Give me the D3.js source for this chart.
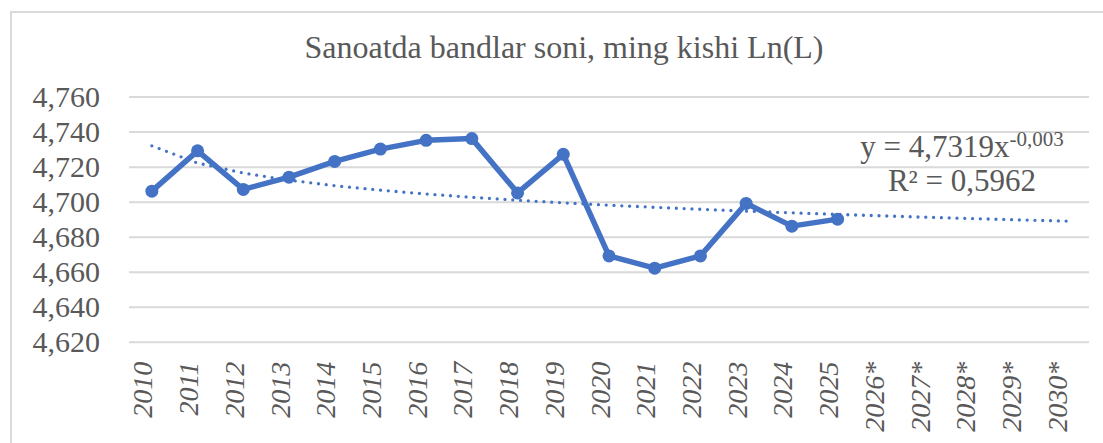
<!DOCTYPE html>
<html lang="en">

<head>
    <meta charset="UTF-8">
    <title>Sanoatda bandlar soni</title>
    <style>
        body { margin: 0; background: #fff; }
    </style>
</head>

<body>
    <svg width="1103" height="443" id="svg"></svg>
    <script src="https://d3js.org/d3.v7.min.js"></script>
    <script>
        // kategoriyalar (yillar)
        const years = ["2010", "2011", "2012", "2013", "2014", "2015", "2016", "2017", "2018", "2019",
            "2020", "2021", "2022", "2023", "2024", "2025", "2026*", "2027*", "2028*", "2029*", "2030*"]
        // Ln(L) qiymatlari, 2010-2025
        const values = [4.706, 4.729, 4.707, 4.714, 4.723, 4.730, 4.735, 4.736, 4.705, 4.727,
            4.669, 4.662, 4.669, 4.699, 4.686, 4.690]
        const yTicks = [4.620, 4.640, 4.660, 4.680, 4.700, 4.720, 4.740, 4.760]
        // trend: y = a * x^b
        const trendA = 4.7319
        const trendB = -0.003
        const trendR2 = "0,5962"

        const blue = "#4472C4"
        const grid = "#d9d9d9"
        const txt = "#595959"
        const font = "'Liberation Serif'"

        const svg = d3.select("svg#svg")
        const width = +svg.attr("width")
        const height = +svg.attr("height")

        svg.append("rect").attr("width", width).attr("height", height).attr("fill", "#fff")
        // ramka
        svg.append("rect")
            .attr("x", 11).attr("y", 12)
            .attr("width", width).attr("height", height)
            .attr("fill", "none").attr("stroke", grid).attr("stroke-width", 2)

        const xScale = d3.scalePoint().domain(years).range([129, 1089]).padding(0.5)
        const yScale = d3.scaleLinear().domain([4.62, 4.76]).range([341.7, 96.6])

        const comma = d => d3.format(".3f")(d).replace(".", ",").replace("\u2212", "-")
        const comma4 = d => d3.format(".4f")(d).replace(".", ",")

        // y o'qi
        const yAxis = d3.axisLeft(yScale).tickValues(yTicks).tickSize(-960).tickFormat(comma).tickPadding(29)
        const gy = svg.append("g").attr("transform", "translate(129,0)").call(yAxis)
        gy.attr("font-family", null)
        gy.select(".domain").remove()
        gy.selectAll(".tick line").attr("stroke", grid).attr("stroke-width", 2)
        gy.selectAll(".tick text")
            .attr("font-size", 30).attr("fill", txt)
            .style("font-family", font)

        // x o'qi
        const xAxis = d3.axisBottom(xScale).tickSize(0)
        const gx = svg.append("g").attr("transform", `translate(0,${yScale(4.62)})`).call(xAxis)
        gx.attr("font-family", null)
        gx.select(".domain").remove()
        gx.selectAll(".tick text")
            .attr("font-size", 28).attr("font-style", "italic").attr("fill", txt)
            .style("font-family", font)
            .attr("text-anchor", "end")
            .attr("transform", "rotate(-90)")
            .attr("x", -20).attr("y", 0).attr("dy", 0)

        // trend chizig'i
        const trend = years.map((d, i) => ({ name: d, value: trendA * Math.pow(i + 1, trendB) }))
        const line = d3.line().x(d => xScale(d.name)).y(d => yScale(d.value))
        svg.append("path")
            .attr("d", line(trend))
            .attr("fill", "none").attr("stroke", blue)
            .attr("stroke-width", 3.3).attr("stroke-linecap", "round")
            .attr("stroke-dasharray", "0 7.8")

        // asosiy qator
        const data = values.map((v, i) => ({ name: years[i], value: v }))
        svg.append("path")
            .attr("d", line(data))
            .attr("fill", "none").attr("stroke", blue)
            .attr("stroke-width", 5.5).attr("stroke-linejoin", "round")
        svg.selectAll("circle.pt").data(data).enter().append("circle")
            .attr("class", "pt")
            .attr("cx", d => xScale(d.name)).attr("cy", d => yScale(d.value))
            .attr("r", 6.5).attr("fill", blue)

        // sarlavha
        svg.append("text")
            .attr("x", 564).attr("y", 58)
            .attr("text-anchor", "middle").attr("font-size", 32)
            .attr("fill", txt).style("font-family", font)
            .text("Sanoatda bandlar soni, ming kishi Ln(L)")

        // tenglama
        const eq = svg.append("text")
            .attr("x", 962).attr("y", 157)
            .attr("text-anchor", "middle").attr("font-size", 31)
            .attr("fill", txt).style("font-family", font)
        eq.append("tspan").text("y = " + comma4(trendA) + "x")
        eq.append("tspan").attr("font-size", 21).attr("dy", -11).text(comma(trendB))
        svg.append("text")
            .attr("x", 962).attr("y", 191)
            .attr("text-anchor", "middle").attr("font-size", 31)
            .attr("fill", txt).style("font-family", font)
            .text("R\u00b2 = " + trendR2)
    </script>
</body>

</html>
